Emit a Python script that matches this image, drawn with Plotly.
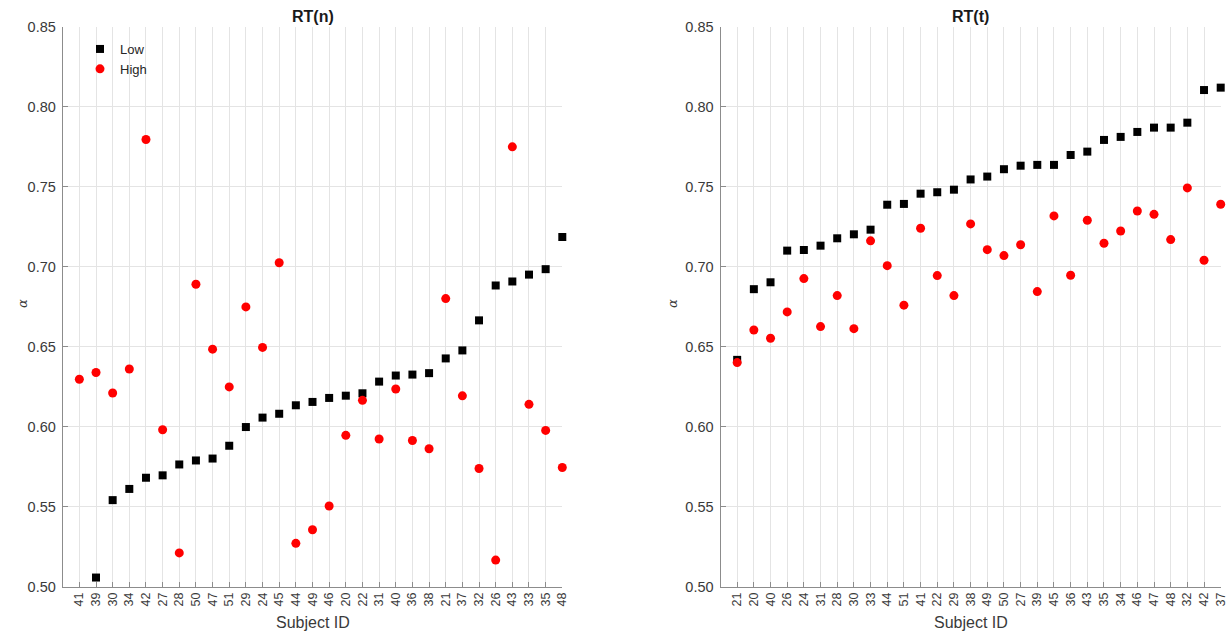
import plotly.graph_objects as go

# ---- data ----
subjects_n = ["41","39","30","34","42","27","28","50","47","51","29","24","45","44","49",
              "46","20","22","31","40","36","38","21","37","32","26","43","33","35","48"]
# subject 41 "Low" value lies below the visible range (not readable)
low_n = [None, 0.5056, 0.554, 0.561, 0.568, 0.5695, 0.5763, 0.5788, 0.580, 0.588, 0.5997, 0.6056, 0.608, 0.6133, 0.6154,
         0.6179, 0.6193, 0.6208, 0.6281, 0.6319, 0.6325, 0.6334, 0.6426, 0.6476, 0.6664, 0.6882, 0.6907, 0.695, 0.6984, 0.7185]
high_n = [0.6296, 0.6338, 0.621, 0.636, 0.7795, 0.598, 0.521, 0.689, 0.6484, 0.6248, 0.6748, 0.6495, 0.7024, 0.527, 0.5355,
          0.5503, 0.5945, 0.6164, 0.5922, 0.6235, 0.5913, 0.5861, 0.680, 0.6192, 0.5738, 0.5165, 0.7749, 0.6139, 0.5976, 0.5744]

subjects_t = ["21","20","40","26","24","31","28","30","33","44","51","41","22","29","38",
              "49","50","27","39","45","36","43","35","34","46","47","48","32","42","37"]
low_t = [0.6417, 0.6859, 0.6902, 0.710, 0.7104, 0.7131, 0.7177, 0.7202, 0.7231, 0.7387, 0.7392, 0.7456, 0.7465, 0.7481, 0.7545,
         0.7563, 0.7609, 0.7631, 0.7636, 0.7636, 0.7698, 0.7719, 0.7792, 0.7811, 0.7842, 0.7869, 0.7869, 0.790, 0.8104, 0.8119]
high_t = [0.640, 0.6604, 0.6552, 0.6717, 0.6925, 0.6625, 0.6819, 0.6612, 0.7161, 0.7006, 0.6759, 0.724, 0.6944, 0.6819, 0.7267,
          0.7106, 0.7069, 0.7137, 0.6844, 0.7317, 0.6946, 0.729, 0.7146, 0.7223, 0.7348, 0.7327, 0.7169, 0.7492, 0.704, 0.739]

y_ticks = [0.50, 0.55, 0.60, 0.65, 0.70, 0.75, 0.80, 0.85]
titles = ["RT(n)", "RT(t)"]

FONT = "Liberation Sans, Arial, Helvetica, sans-serif"
TXT = "#3a3a3a"
GRID = "#e4e4e4"
AX = "#8c8c8c"

fig = go.Figure()

panels = [(subjects_n, low_n, high_n, "x", "y", True),
          (subjects_t, low_t, high_t, "x2", "y2", False)]
for subj, lo, hi, xa, ya, leg in panels:
    fig.add_trace(go.Scatter(x=subj, y=lo, mode="markers", name="Low",
                             marker=dict(symbol="square", size=8, color="black"),
                             xaxis=xa, yaxis=ya, showlegend=leg, cliponaxis=False))
    fig.add_trace(go.Scatter(x=subj, y=hi, mode="markers", name="High",
                             marker=dict(symbol="circle", size=9, color="#ff0000"),
                             xaxis=xa, yaxis=ya, showlegend=leg, cliponaxis=False))

W, H = 1229, 632
xdom = [[62.7 / W, 562.3 / W], [720.5 / W, 1220.7 / W]]
ydom = [1 - 586.5 / H, 1 - 26.7 / H]

def xaxis_cfg(dom, subj):
    return dict(domain=dom, type="category", categoryorder="array", categoryarray=subj,
                range=[-1, 29], showgrid=True, gridcolor=GRID, gridwidth=1,
                showline=True, linecolor=AX, linewidth=1, mirror=False,
                ticks="inside", ticklen=5, tickcolor=AX, tickangle=-90,
                tickfont=dict(family=FONT, size=12.5, color=TXT), automargin=False,
                zeroline=False)

def yaxis_cfg(anchor):
    return dict(domain=ydom, range=[0.50, 0.85], tickvals=y_ticks,
                ticktext=[f"{v:.2f}" for v in y_ticks], anchor=anchor,
                showgrid=True, gridcolor=GRID, gridwidth=1,
                showline=True, linecolor=AX, linewidth=1, mirror=False,
                ticks="inside", ticklen=5, tickcolor=AX, ticklabelstandoff=3,
                tickfont=dict(family=FONT, size=14.5, color=TXT), automargin=False, zeroline=False)

fig.update_layout(
    width=W, height=H,
    margin=dict(l=0, r=0, t=0, b=0),
    paper_bgcolor="white", plot_bgcolor="white",
    font=dict(family=FONT, color=TXT),
    xaxis=dict(anchor="y", **xaxis_cfg(xdom[0], subjects_n)),
    xaxis2=dict(anchor="y2", **xaxis_cfg(xdom[1], subjects_t)),
    yaxis=yaxis_cfg("x"),
    yaxis2=yaxis_cfg("x2"),
    showlegend=True,
    legend=dict(x=80 / W, y=1 - 34 / H, xanchor="left", yanchor="top",
                bgcolor="rgba(0,0,0,0)", borderwidth=0,
                font=dict(family=FONT, size=13, color="#262626"),
                itemwidth=30, tracegroupgap=0),
)

alpha_x = [22, 672]
for i, t in enumerate(titles):
    cx = (xdom[i][0] + xdom[i][1]) / 2
    fig.add_annotation(text=f"<b>{t}</b>", x=cx, y=1 - 16 / H, xref="paper", yref="paper",
                       showarrow=False, font=dict(family=FONT, size=16, color="#1a1a1a"),
                       xanchor="center", yanchor="middle")
    fig.add_annotation(text="Subject ID", x=cx, y=1 - 622 / H, xref="paper", yref="paper",
                       showarrow=False, font=dict(family=FONT, size=16, color=TXT),
                       xanchor="center", yanchor="middle")
    fig.add_annotation(text="<i>α</i>", x=alpha_x[i] / W, y=1 - 304 / H, xref="paper", yref="paper",
                       showarrow=False, textangle=-90,
                       font=dict(family="DejaVu Serif, Liberation Serif, serif", size=13, color=TXT),
                       xanchor="center", yanchor="middle")

fig.write_html("out.html")
